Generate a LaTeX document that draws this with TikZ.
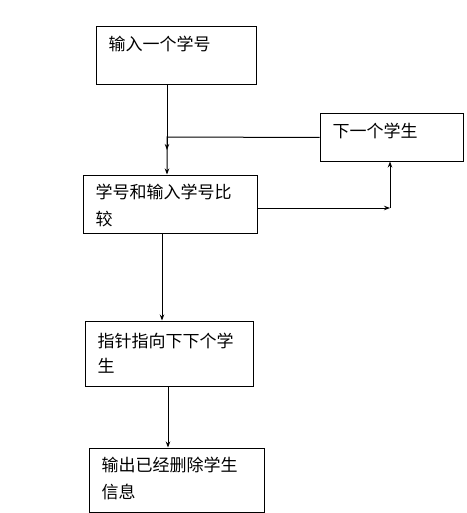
\documentclass[tikz,border=0pt]{standalone}
\usepackage{fontspec}
\setmainfont{Noto Sans CJK SC}
\usepackage{tikz}
\usetikzlibrary{arrows.meta}

\tikzset{
    box/.style={draw, line width=1pt, inner sep=0pt},
    txt/.style={anchor=north west, inner sep=0pt, xshift=13pt, yshift=-9pt, align=left,
        font=\fontsize{17pt}{27pt}\selectfont},
    arr/.style={line width=1pt, -{Stealth[length=6pt, width=4.5pt]}}
}

\begin{document}
\begin{tikzpicture}[x=1pt, y=-1pt]
        \useasboundingbox (0,0) rectangle (466,513);
        \node[box, minimum width=160pt, minimum height=58pt, label={[txt]north west:输入一个学号}] (input) at (176, 56) {};
        \node[box, minimum width=143pt, minimum height=47pt, label={[txt]north west:下一个学生}] (next) at (391.5, 137.5) {};
        \node[box, minimum width=174pt, minimum height=58pt, label={[txt]north west:学号和输入学号比\\较}] (compare) at (170, 204) {};
        \node[box, minimum width=168pt, minimum height=65pt, label={[txt, yshift=-3pt, font=\fontsize{17pt}{25pt}\selectfont]north west:指针指向下下个学\\生}] (pointer) at (169, 353.5) {};
        \node[box, minimum width=175pt, minimum height=64pt, label={[txt]north west:输出已经删除学生\\信息}] (output) at (176.5, 480) {};
        % loop back from the next student
        \coordinate (merge) at (167, 137);
        \coordinate (tip) at (167, 150);
        \coordinate (turn) at (390, 208);
        \draw[arr] (input.south -| merge) to (tip);
        \draw[arr] (next.west) to (merge) to (compare.north -| merge);
        \draw[arr] (compare.east |- turn) to (turn);
        \draw[arr] (turn) to (next.south -| turn);
        \draw[arr] ([xshift=-8pt]compare.south) to ([xshift=-8pt]compare.south |- pointer.north);
        \draw[arr] ([xshift=-1pt]pointer.south) to ([xshift=-1pt]pointer.south |- output.north);
    \end{tikzpicture}
\end{document}
